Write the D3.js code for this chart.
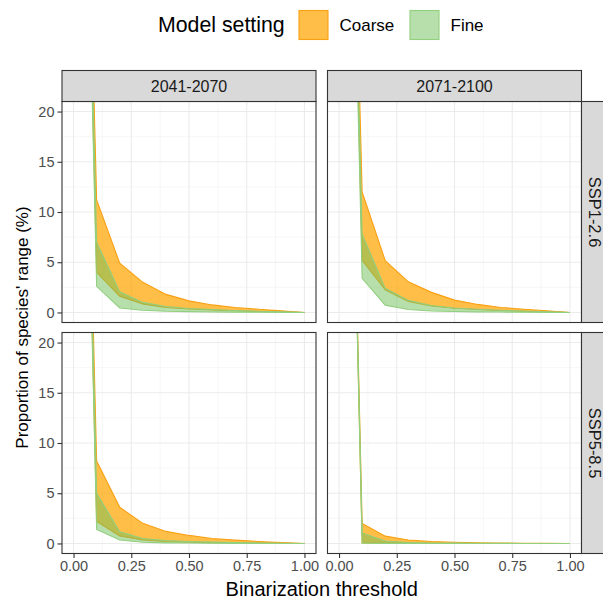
<!DOCTYPE html>
<html>
<head>
<meta charset="utf-8">
<script src="https://cdn.jsdelivr.net/npm/d3@7"></script>
<style>
  body { margin: 0; background: #fff; }
  text { font-family: "Liberation Sans", Arial, sans-serif; }
</style>
</head>
<body>
<script>
// data
const thresholds = [0, 0.1, 0.2, 0.3, 0.4, 0.5, 0.6, 0.7, 0.8, 0.9, 1.0]
const periods = ["2041-2070", "2071-2100"]
const scenarios = ["SSP1-2.6", "SSP5-8.5"]
const settings = ["Coarse", "Fine"]
const xTicks = [0, 0.25, 0.5, 0.75, 1]
const yTicks = [0, 5, 10, 15, 20]

// SSP1-2.6, 2041-2070
const coarseHi_1_41 = [100, 11.2, 4.9, 3.0, 1.8, 1.15, 0.75, 0.5, 0.32, 0.16, 0]
const coarseLo_1_41 = [100, 4.0, 1.6, 0.85, 0.5, 0.35, 0.25, 0.17, 0.1, 0.05, 0]
const fineHi_1_41 = [100, 7.0, 2.05, 1.0, 0.6, 0.4, 0.3, 0.2, 0.12, 0.06, 0]
const fineLo_1_41 = [100, 2.6, 0.45, 0.22, 0.12, 0.08, 0.05, 0.03, 0.02, 0.01, 0]
// SSP1-2.6, 2071-2100
const coarseHi_1_71 = [100, 12.0, 5.15, 3.05, 2.0, 1.23, 0.8, 0.5, 0.32, 0.17, 0]
const coarseLo_1_71 = [100, 5.2, 2.25, 1.1, 0.65, 0.42, 0.3, 0.2, 0.12, 0.06, 0]
const fineHi_1_71 = [100, 7.8, 2.4, 1.2, 0.7, 0.45, 0.32, 0.22, 0.14, 0.07, 0]
const fineLo_1_71 = [100, 3.4, 0.73, 0.3, 0.15, 0.1, 0.06, 0.04, 0.02, 0.01, 0]
// SSP5-8.5, 2041-2070
const coarseHi_5_41 = [100, 8.2, 3.6, 2.0, 1.2, 0.8, 0.5, 0.33, 0.2, 0.1, 0]
const coarseLo_5_41 = [100, 2.2, 0.75, 0.35, 0.2, 0.13, 0.08, 0.05, 0.03, 0.02, 0]
const fineHi_5_41 = [100, 5.0, 1.15, 0.5, 0.3, 0.2, 0.13, 0.08, 0.05, 0.02, 0]
const fineLo_5_41 = [100, 1.4, 0.35, 0.12, 0.06, 0.04, 0.02, 0.01, 0.01, 0, 0]
// SSP5-8.5, 2071-2100
const coarseHi_5_71 = [100, 2.0, 0.73, 0.35, 0.2, 0.12, 0.07, 0.04, 0.02, 0.01, 0]
const coarseLo_5_71 = [100, 0.05, 0.03, 0.02, 0.01, 0, 0, 0, 0, 0, 0]
const fineHi_5_71 = [100, 1.05, 0.25, 0.1, 0.05, 0.03, 0.02, 0.01, 0, 0, 0]
const fineLo_5_71 = [100, 0.02, 0.01, 0, 0, 0, 0, 0, 0, 0, 0]

// table: [row][col] -> {Coarse:[lo,hi], Fine:[lo,hi]}
const bands = [
    [
        {Coarse: [coarseLo_1_41, coarseHi_1_41], Fine: [fineLo_1_41, fineHi_1_41]},
        {Coarse: [coarseLo_1_71, coarseHi_1_71], Fine: [fineLo_1_71, fineHi_1_71]}
    ],
    [
        {Coarse: [coarseLo_5_41, coarseHi_5_41], Fine: [fineLo_5_41, fineHi_5_41]},
        {Coarse: [coarseLo_5_71, coarseHi_5_71], Fine: [fineLo_5_71, fineHi_5_71]}
    ]
]

let width = 603
let height = 599

let fillCol = {Coarse: "#FFA500", Fine: "#6DBF58"}
let fillOp = {Coarse: 0.72, Fine: 0.5}
let lineCol = {Coarse: "#F9A013", Fine: "#92CF7F"}

let svg = d3.select("body")
    .append("svg")
    .attr("width", width)
    .attr("height", height)

let colX = [62, 327.5]
let rowY = [101.5, 332.5]
let panelW = 254
let panelH = 221
let stripH = 31

let xScale = d3.scaleLinear()
    .domain([-0.05, 1.05])
    .range([0, panelW])
let yScale = d3.scaleLinear()
    .domain([-1, 21])
    .range([panelH, 0])

let defs = svg.append("defs")
defs.append("clipPath").attr("id", "clip")
    .append("rect")
    .attr("width", panelW)
    .attr("height", panelH)

for (let r = 0; r < 2; r++) {
    for (let c = 0; c < 2; c++) {
        let g = svg.append("g")
            .attr("transform", "translate(" + colX[c] + "," + rowY[r] + ")")

        g.append("rect")
            .attr("width", panelW)
            .attr("height", panelH)
            .attr("fill", "#fff")

        // minor grid
        let xMinor = [0.125, 0.375, 0.625, 0.875]
        let yMinor = [2.5, 7.5, 12.5, 17.5]
        g.selectAll(".xminor").data(xMinor).enter().append("line")
            .attr("x1", d => xScale(d)).attr("x2", d => xScale(d))
            .attr("y1", 0).attr("y2", panelH)
            .attr("stroke", "#F2F2F2").attr("stroke-width", 0.6)
        g.selectAll(".yminor").data(yMinor).enter().append("line")
            .attr("y1", d => yScale(d)).attr("y2", d => yScale(d))
            .attr("x1", 0).attr("x2", panelW)
            .attr("stroke", "#F2F2F2").attr("stroke-width", 0.6)
        // major grid
        g.selectAll(".xmajor").data(xTicks).enter().append("line")
            .attr("x1", d => xScale(d)).attr("x2", d => xScale(d))
            .attr("y1", 0).attr("y2", panelH)
            .attr("stroke", "#EBEBEB").attr("stroke-width", 1.1)
        g.selectAll(".ymajor").data(yTicks).enter().append("line")
            .attr("y1", d => yScale(d)).attr("y2", d => yScale(d))
            .attr("x1", 0).attr("x2", panelW)
            .attr("stroke", "#EBEBEB").attr("stroke-width", 1.1)

        let plot = g.append("g").attr("clip-path", "url(#clip)")
        settings.forEach(function(s) {
            let lo = bands[r][c][s][0]
            let hi = bands[r][c][s][1]
            let pts = thresholds.map((t, i) => ({x: t, lo: lo[i], hi: hi[i]}))
            let area = d3.area()
                .x(d => xScale(d.x))
                .y0(d => yScale(d.lo))
                .y1(d => yScale(d.hi))
            plot.append("path")
                .attr("d", area(pts))
                .attr("fill", fillCol[s])
                .attr("fill-opacity", fillOp[s])
            let lineHi = d3.line().x(d => xScale(d.x)).y(d => yScale(d.hi))
            let lineLo = d3.line().x(d => xScale(d.x)).y(d => yScale(d.lo))
            plot.append("path").attr("d", lineHi(pts))
                .attr("fill", "none").attr("stroke", lineCol[s]).attr("stroke-width", 1.1)
            plot.append("path").attr("d", lineLo(pts))
                .attr("fill", "none").attr("stroke", lineCol[s]).attr("stroke-width", 1.1)
        })

        g.append("rect")
            .attr("width", panelW)
            .attr("height", panelH)
            .attr("fill", "none")
            .attr("stroke", "#333")
            .attr("stroke-width", 1.1)

        // y axis on left column
        if (c === 0) {
            let yAxis = d3.axisLeft(yScale).tickValues(yTicks).tickSize(4.5).tickPadding(3)
            let ya = g.append("g").call(yAxis)
            ya.select(".domain").remove()
            ya.selectAll("line").attr("stroke", "#333").attr("stroke-width", 1.1)
            ya.selectAll("text").attr("fill", "#4D4D4D").style("font-size", "14.5px")
                .style("font-family", "Liberation Sans, Arial, sans-serif")
        }
        // x axis on bottom row
        if (r === 1) {
            let xAxis = d3.axisBottom(xScale).tickValues(xTicks).tickFormat(d3.format(".2f")).tickSize(4.5).tickPadding(3)
            let xa = g.append("g").attr("transform", "translate(0," + panelH + ")").call(xAxis)
            xa.select(".domain").remove()
            xa.selectAll("line").attr("stroke", "#333").attr("stroke-width", 1.1)
            xa.selectAll("text").attr("fill", "#4D4D4D").style("font-size", "14.5px")
                .style("font-family", "Liberation Sans, Arial, sans-serif")
        }
    }
}

// top strips
periods.forEach(function(p, c) {
    svg.append("rect")
        .attr("x", colX[c]).attr("y", rowY[0] - stripH)
        .attr("width", panelW).attr("height", stripH)
        .attr("fill", "#D9D9D9").attr("stroke", "#333").attr("stroke-width", 1.1)
    svg.append("text")
        .attr("x", colX[c] + panelW / 2).attr("y", rowY[0] - stripH / 2)
        .attr("dy", "0.35em").attr("text-anchor", "middle")
        .attr("fill", "#1A1A1A").style("font-size", "16px")
        .text(p)
})

// right strips
scenarios.forEach(function(s, r) {
    let x0 = colX[1] + panelW
    svg.append("rect")
        .attr("x", x0).attr("y", rowY[r])
        .attr("width", stripH).attr("height", panelH)
        .attr("fill", "#D9D9D9").attr("stroke", "#333").attr("stroke-width", 1.1)
    svg.append("text")
        .attr("transform", "translate(" + (x0 + 13) + "," + (rowY[r] + panelH / 2) + ") rotate(90)")
        .attr("dy", "0.35em").attr("text-anchor", "middle")
        .attr("fill", "#1A1A1A").style("font-size", "16.5px")
        .text(s)
})

// axis titles
svg.append("text")
    .attr("x", (colX[0] + colX[1] + panelW) / 2).attr("y", 588.5)
    .attr("dy", "0.35em")
    .attr("text-anchor", "middle")
    .attr("fill", "#000").style("font-size", "20px")
    .text("Binarization threshold")
svg.append("text")
    .attr("transform", "translate(22," + ((rowY[0] + rowY[1] + panelH) / 2) + ") rotate(-90)")
    .attr("dy", "0.35em")
    .attr("text-anchor", "middle")
    .attr("fill", "#000").style("font-size", "17px")
    .text("Proportion of species' range (%)")

// legend
let leg = svg.append("g")
leg.append("text")
    .attr("x", 158).attr("y", 25).attr("dy", "0.35em")
    .attr("fill", "#000").style("font-size", "21.3px")
    .text("Model setting")
let legX = {Coarse: 298.5, Fine: 409.5}
settings.forEach(function(s) {
    leg.append("rect")
        .attr("x", legX[s] + 0.5).attr("y", 10.5)
        .attr("width", 29).attr("height", 29)
        .attr("fill", fillCol[s]).attr("fill-opacity", fillOp[s])
        .attr("stroke", lineCol[s]).attr("stroke-width", 1.1)
    leg.append("text")
        .attr("x", legX[s] + 41).attr("y", 25).attr("dy", "0.35em")
        .attr("fill", "#000").style("font-size", "17px")
        .text(s)
})
</script>
</body>
</html>
